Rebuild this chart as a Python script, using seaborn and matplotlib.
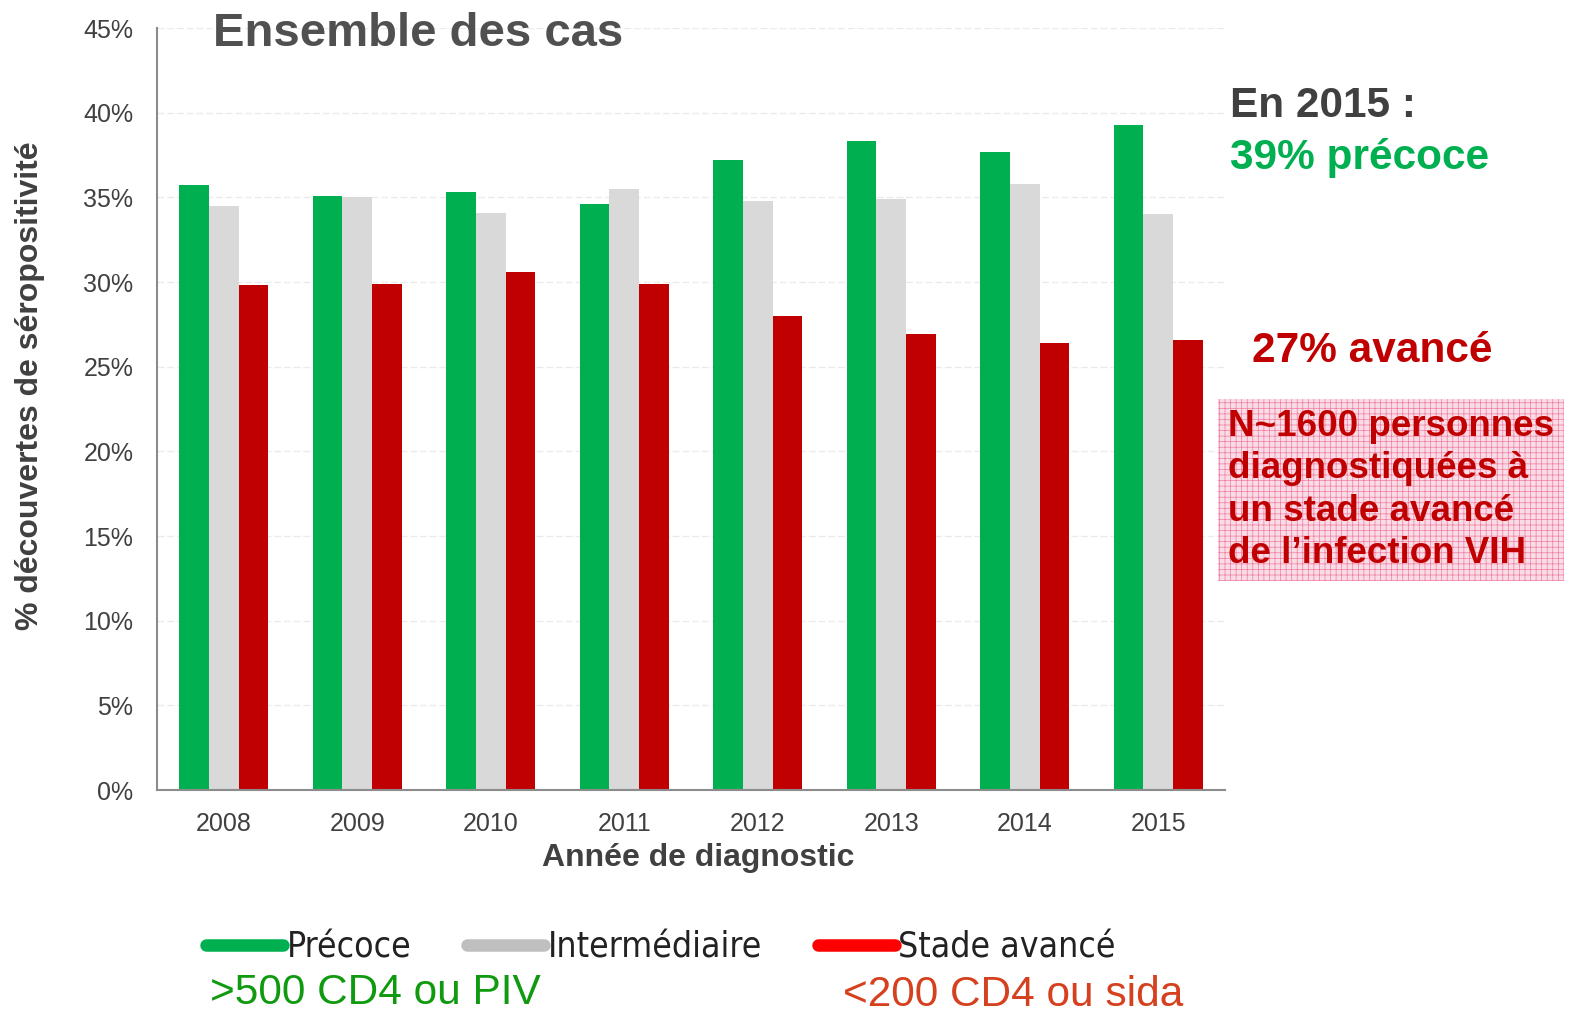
import matplotlib
matplotlib.use("Agg")
import matplotlib.pyplot as plt
import seaborn as sns
import pandas as pd
import numpy as np
from matplotlib.lines import Line2D
from matplotlib.ticker import FixedLocator, PercentFormatter

years = ["2008", "2009", "2010", "2011", "2012", "2013", "2014", "2015"]
stages = ["Précoce", "Intermédiaire", "Stade avancé"]
precoce = [35.7, 35.1, 35.3, 34.6, 37.2, 38.3, 37.7, 39.3]
intermediaire = [34.5, 35.0, 34.1, 35.5, 34.8, 34.9, 35.8, 34.0]
avance = [29.8, 29.9, 30.6, 29.9, 28.0, 26.9, 26.4, 26.6]
yticks = [0, 5, 10, 15, 20, 25, 30, 35, 40, 45]

df = pd.DataFrame({
    "year": years * 3,
    "stage": [stages[0]] * 8 + [stages[1]] * 8 + [stages[2]] * 8,
    "value": precoce + intermediaire + avance,
})

sns.set_theme(style="white")
plt.rcParams["font.family"] = ["Liberation Sans", "DejaVu Sans"]
plt.rcParams["hatch.linewidth"] = 0.5

bar_colors = ["#00B050", "#D9D9D9", "#C00000"]
fig = plt.figure(figsize=(15.76, 10.17), dpi=100)
ax = fig.add_axes([157 / 1576, 1 - 790 / 1017, (1225 - 157) / 1576, (790 - 28) / 1017])

sns.barplot(data=df, x="year", y="value", hue="stage", palette=bar_colors,
            width=0.67, ax=ax, legend=False, saturation=1, edgecolor="none")

ax.set_xlim(-0.5, 7.5)
ax.set_ylim(0, 45)
ax.set_yticks(yticks)
ax.yaxis.set_major_formatter(PercentFormatter(decimals=0))
ax.grid(axis="y", color="#EBEBEB", linestyle=(0, (5, 2)), linewidth=1)
ax.set_axisbelow(True)
for s in ["top", "right"]:
    ax.spines[s].set_visible(False)
for s in ["left", "bottom"]:
    ax.spines[s].set_color("#8C8C8C")
    ax.spines[s].set_linewidth(1.5)

ax.tick_params(axis="y", length=0, pad=17, labelsize=18, labelcolor="#404040")
ax.tick_params(axis="x", which="major", length=0, pad=16, labelsize=18, labelcolor="#404040")
ax.xaxis.set_minor_locator(FixedLocator(np.arange(-0.5, 8, 1)))
ax.tick_params(axis="x", which="minor", length=7, width=1.5, color="#8C8C8C", direction="out")

ax.set_xlabel("Année de diagnostic", fontsize=23, fontweight="bold", color="#404040")
ax.set_ylabel("% découvertes de séropositivité", fontsize=23, fontweight="bold", color="#404040")
ax.xaxis.set_label_coords((698 - 157) / 1068, -(858 - 790) / 762)
ax.yaxis.set_label_coords(-(157 - 30) / 1068, (790 - 386) / 762)
ax.xaxis.label.set_va("center")
ax.yaxis.label.set_va("center")

fig.text(213 / 1576, 1 - 34 / 1017, "Ensemble des cas", fontsize=34, fontweight="bold",
         color="#505050", ha="left", va="center")

fig.text(1230 / 1576, 1 - 106 / 1017, "En 2015 :", fontsize=30.5, fontweight="bold",
         color="#404040", ha="left", va="center")
fig.text(1230 / 1576, 1 - 158 / 1017, "39% précoce", fontsize=30.5, fontweight="bold",
         color="#00B050", ha="left", va="center")
fig.text(1252 / 1576, 1 - 351 / 1017, "27% avancé", fontsize=30.5, fontweight="bold",
         color="#C00000", ha="left", va="center")
fig.text(1228 / 1576, 1 - 490 / 1017,
         "N~1600 personnes\ndiagnostiquées à\nun stade avancé\nde l\u2019infection VIH",
         fontsize=26.5, fontweight="bold", color="#C00000", ha="left", va="center",
         linespacing=1.27,
         bbox=dict(boxstyle="square,pad=0.27", facecolor="#FADCE6", edgecolor="#F07CA0",
                   hatch="+++", linewidth=0))

handles = [Line2D([0], [0], color=c, lw=9, solid_capstyle="round")
           for c in ["#00B050", "#BFBFBF", "#FF0000"]]
leg = fig.legend(handles, stages, loc="center left", bbox_to_anchor=(206 / 1576, 1 - 947 / 1017),
                 ncol=3, frameon=False, handlelength=2.17, handletextpad=0.1, columnspacing=1.58,
                 borderpad=0, borderaxespad=0,
                 prop={"family": "DejaVu Sans", "stretch": "condensed", "size": 25.5})
for t in leg.get_texts():
    t.set_color("#222222")

fig.text(210 / 1576, 1 - 993 / 1017, ">500 CD4 ou PIV", fontsize=30.5, color="#109A10",
         ha="left", va="center")
fig.text(843 / 1576, 1 - 995 / 1017, "<200 CD4 ou sida", fontsize=30.5, color="#D5401E",
         ha="left", va="center")

fig.savefig("out.png", dpi=100)
